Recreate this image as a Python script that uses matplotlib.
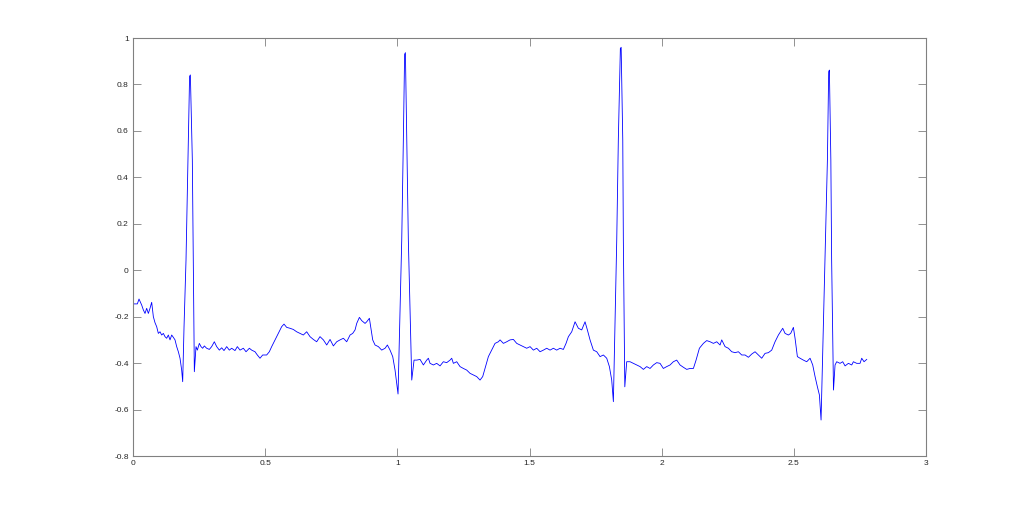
import matplotlib
matplotlib.use("Agg")
import matplotlib.pyplot as plt

# time (s) and amplitude values
t = [0.0000, 0.0164, 0.0227, 0.0328, 0.0391, 0.0454, 0.0517, 0.0580, 0.0643, 0.0706,
     0.0769, 0.0832, 0.0895, 0.0958, 0.1021, 0.1084, 0.1147, 0.1210, 0.1273, 0.1336,
     0.1400, 0.1463, 0.1526, 0.1589, 0.1652, 0.1715, 0.1778, 0.1841, 0.1879,
     0.1930, 0.2005, 0.2080, 0.2140, 0.2170, 0.2244, 0.2280, 0.2320,
     0.2383, 0.2434, 0.2509, 0.2572, 0.2635, 0.2698, 0.2786, 0.2887, 0.2975, 0.3076,
     0.3165, 0.3266, 0.3354, 0.3442, 0.3543, 0.3644, 0.3732, 0.3858, 0.3947, 0.4048,
     0.4174, 0.4275, 0.4401, 0.4489, 0.4615, 0.4703, 0.4804, 0.4905, 0.5056, 0.5157,
     0.5246, 0.5372, 0.5498, 0.5624, 0.5712, 0.5813, 0.5939, 0.6065, 0.6191, 0.6317,
     0.6443, 0.6570, 0.6696, 0.6822, 0.6948, 0.7074,
     0.7202, 0.7328, 0.7454, 0.7580, 0.7706, 0.7832, 0.7958, 0.8084, 0.8211, 0.8311,
     0.8400, 0.8463, 0.8564, 0.8652, 0.8778, 0.8841, 0.8942, 0.8992, 0.9068, 0.9156,
     0.9282, 0.9408, 0.9535, 0.9623, 0.9724, 0.9825, 0.9913, 0.9976, 1.0026,
     1.0166, 1.0227, 1.0275, 1.0305, 1.0355, 1.0416, 1.0545,
     1.0632, 1.0733, 1.0859, 1.0985, 1.1111, 1.1174, 1.1237, 1.1363, 1.1489, 1.1615,
     1.1741, 1.1867, 1.1994, 1.2057, 1.2120, 1.2246, 1.2372, 1.2498, 1.2624, 1.2750,
     1.2876, 1.3002, 1.3128, 1.3229, 1.3318, 1.3444, 1.3570, 1.3696, 1.3822,
     1.3886, 1.4012, 1.4138, 1.4264, 1.4390, 1.4516, 1.4642, 1.4768, 1.4894, 1.5021,
     1.5147, 1.5273, 1.5399, 1.5525, 1.5651, 1.5777, 1.5903, 1.6029, 1.6155, 1.6281,
     1.6382, 1.6471, 1.6597, 1.6723, 1.6849, 1.6975, 1.7101, 1.7189, 1.7290, 1.7416,
     1.7543, 1.7669, 1.7795, 1.7921, 1.8022, 1.8110, 1.8173,
     1.8300, 1.8360, 1.8437, 1.8467, 1.8528, 1.8550, 1.8605,
     1.8677, 1.8803, 1.8929, 1.9056, 1.9182, 1.9308, 1.9434, 1.9560, 1.9686, 1.9812,
     1.9938, 2.0064, 2.0190, 2.0316, 2.0442, 2.0569, 2.0695,
     2.0822, 2.0948, 2.1074, 2.1200, 2.1301, 2.1427, 2.1578, 2.1704, 2.1831, 2.1957,
     2.2083, 2.2209, 2.2272, 2.2398, 2.2524, 2.2650, 2.2776, 2.2902, 2.3028, 2.3155,
     2.3281, 2.3407, 2.3533, 2.3659, 2.3785, 2.3911, 2.4037, 2.4163, 2.4289, 2.4416,
     2.4579, 2.4668, 2.4794, 2.4882, 2.4983, 2.5046, 2.5134, 2.5235, 2.5361, 2.5487,
     2.5614, 2.5714, 2.5803, 2.5891, 2.5967, 2.6030,
     2.6180, 2.6270, 2.6318, 2.6345, 2.6400, 2.6430, 2.6500,
     2.6559, 2.6622, 2.6748, 2.6849, 2.6938, 2.7064, 2.7190, 2.7253, 2.7379, 2.7505,
     2.7568, 2.7656, 2.7757]

v = [-0.145, -0.145, -0.124, -0.150, -0.171, -0.186, -0.164, -0.186, -0.164, -0.138,
     -0.200, -0.226, -0.243, -0.272, -0.265, -0.279, -0.272, -0.286, -0.293, -0.279,
     -0.300, -0.279, -0.289, -0.300, -0.329, -0.351, -0.379, -0.430, -0.480,
     -0.243, 0.044, 0.475, 0.835, 0.841, 0.475, 0.044, -0.437,
     -0.329, -0.344, -0.315, -0.329, -0.336, -0.326, -0.336, -0.341, -0.329, -0.308,
     -0.329, -0.344, -0.334, -0.346, -0.329, -0.344, -0.336, -0.346, -0.329, -0.344,
     -0.336, -0.351, -0.336, -0.344, -0.351, -0.365, -0.379, -0.365, -0.365, -0.351,
     -0.329, -0.300, -0.272, -0.243, -0.232, -0.246, -0.250, -0.255, -0.265, -0.272,
     -0.279, -0.265, -0.286, -0.298, -0.308, -0.286,
     -0.300, -0.322, -0.298, -0.326, -0.308, -0.300, -0.293, -0.308, -0.279, -0.272,
     -0.257, -0.229, -0.203, -0.217, -0.229, -0.222, -0.207, -0.243, -0.300, -0.322,
     -0.329, -0.344, -0.336, -0.322, -0.344, -0.372, -0.430, -0.487, -0.533,
     0.130, 0.561, 0.930, 0.937, 0.561, 0.130, -0.473,
     -0.387, -0.387, -0.384, -0.408, -0.387, -0.379, -0.401, -0.408, -0.401, -0.412,
     -0.394, -0.398, -0.387, -0.379, -0.401, -0.394, -0.415, -0.423, -0.430, -0.444,
     -0.451, -0.458, -0.473, -0.458, -0.423, -0.372, -0.344, -0.315, -0.308,
     -0.300, -0.315, -0.308, -0.300, -0.298, -0.315, -0.322, -0.329, -0.336, -0.329,
     -0.344, -0.336, -0.351, -0.344, -0.336, -0.344, -0.336, -0.344, -0.336, -0.341,
     -0.315, -0.286, -0.265, -0.222, -0.250, -0.257, -0.222, -0.257, -0.300, -0.344,
     -0.351, -0.372, -0.365, -0.379, -0.415, -0.473, -0.566,
     0.130, 0.561, 0.955, 0.960, 0.561, 0.130, -0.502,
     -0.394, -0.394, -0.401, -0.408, -0.415, -0.427, -0.415, -0.423, -0.408, -0.398,
     -0.401, -0.423, -0.415, -0.408, -0.394, -0.387, -0.408,
     -0.418, -0.427, -0.423, -0.423, -0.387, -0.336, -0.315, -0.303, -0.308, -0.315,
     -0.308, -0.322, -0.300, -0.329, -0.336, -0.351, -0.355, -0.351, -0.365, -0.365,
     -0.375, -0.361, -0.351, -0.365, -0.379, -0.358, -0.355, -0.344, -0.308, -0.279,
     -0.250, -0.272, -0.279, -0.272, -0.246, -0.293, -0.372, -0.379, -0.387, -0.394,
     -0.379, -0.408, -0.458, -0.502, -0.537, -0.645,
     0.044, 0.475, 0.855, 0.862, 0.475, 0.044, -0.516,
     -0.408, -0.394, -0.401, -0.394, -0.412, -0.401, -0.408, -0.394, -0.401, -0.401,
     -0.379, -0.394, -0.384]

xticks = [0, 0.5, 1, 1.5, 2, 2.5, 3]
xticklabels = ["0", "0.5", "1", "1.5", "2", "2.5", "3"]
yticks = [-0.8, -0.6, -0.4, -0.2, 0, 0.2, 0.4, 0.6, 0.8, 1]
yticklabels = ["-0.8", "-0.6", "-0.4", "-0.2", "0", "0.2", "0.4", "0.6", "0.8", "1"]

plt.rcParams['font.family'] = ['Liberation Sans', 'DejaVu Sans']

fig = plt.figure(figsize=(10.24, 5.13), dpi=100, facecolor='white')
ax = fig.add_axes([0.1299, 0.1111, 0.7744, 0.8148])
ax.plot(t, v, color='#0000ff', linewidth=0.6)
ax.set_xlim(0, 3)
ax.set_ylim(-0.8, 1)
ax.set_xticks(xticks)
ax.set_xticklabels(xticklabels)
ax.set_yticks(yticks)
ax.set_yticklabels(yticklabels)
ax.tick_params(direction='in', length=5.5, width=0.6, color='#808080',
               labelsize=6, labelcolor='#262626', top=True, right=True, pad=3)
for s in ax.spines.values():
    s.set_color('#808080')
    s.set_linewidth(0.8)

fig.savefig('out.png', dpi=100, facecolor='white')
